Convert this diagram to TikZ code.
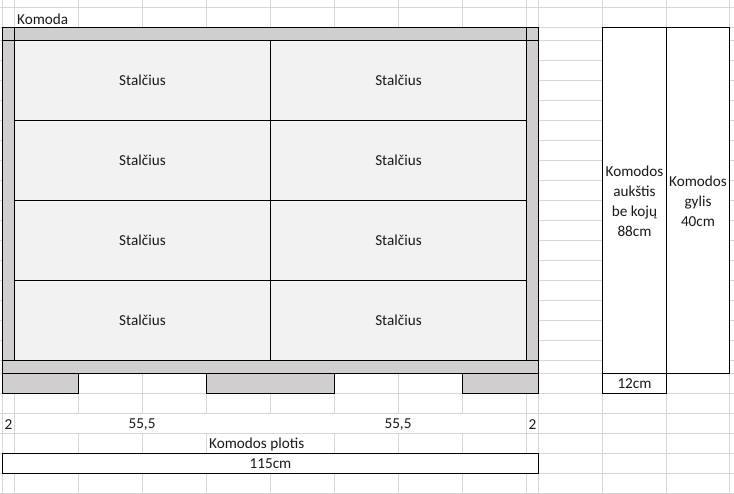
\documentclass[tikz,border=0pt]{standalone}
\usepackage{fontspec}
\setmainfont{Carlito}
\definecolor{gridc}{RGB}{214,214,214}
\definecolor{woodc}{RGB}{208,206,206}
\definecolor{drawerc}{RGB}{242,242,242}
\tikzset{
  x=1pt,y=-1pt,
  gridline/.style={draw=gridc,line width=1pt},
  cell/.style={draw=black,line width=1.1pt},
  label/.style={font=\fontsize{15.2}{20}\selectfont,inner sep=0pt,text=black!90},
  multi/.style={label,align=center},
  boxnode/.style={cell,outer sep=0pt,inner sep=0pt,anchor=north west},
  drawerbox/.style={boxnode,fill=drawerc,minimum width=256pt,minimum height=80pt,label}
}
\newcommand{\drop}[1]{\raisebox{-0.8pt}{#1}}
\begin{document}
\begin{tikzpicture}
\useasboundingbox (0,0) rectangle (734,494);
\fill[white] (0,0) rectangle (734,494);
% grid
\foreach \y in {7,27,40,60,80,100,120,140,160,180,200,220,240,260,280,300,320,340,360,373,393,413,433,453,473,493}
  \draw[gridline] (0,\y+0.5) -- (734,\y+0.5);
\foreach \x in {2,14,78,142,206,270,334,398,462,526,538,602,666,729}
  \draw[gridline] (\x+0.5,0) -- (\x+0.5,494);
% merged row
\fill[white] (15.2,414) rectangle (525.8,433);
% cabinet
\path[cell,fill=woodc] (2.5,27.5) rectangle (538.5,373.5);
\draw[cell] (2.5,40.5) -- (538.5,40.5);
\draw[cell] (2.5,360.5) -- (538.5,360.5);
\draw[cell] (14.5,27.5) -- (14.5,360.5);
\draw[cell] (526.5,27.5) -- (526.5,360.5);
% drawers
\node[drawerbox] (d11) at (14.5,40.5) {\drop{Stalčius}};
\node[drawerbox] (d12) at (270.5,40.5) {\drop{Stalčius}};
\node[drawerbox] (d21) at (14.5,120.5) {\drop{Stalčius}};
\node[drawerbox] (d22) at (270.5,120.5) {\drop{Stalčius}};
\node[drawerbox] (d31) at (14.5,200.5) {\drop{Stalčius}};
\node[drawerbox] (d32) at (270.5,200.5) {\drop{Stalčius}};
\node[drawerbox] (d41) at (14.5,280.5) {\drop{Stalčius}};
\node[drawerbox] (d42) at (270.5,280.5) {\drop{Stalčius}};
% legs
\path[cell,fill=woodc] (2.5,373.5) rectangle (78.5,393.5);
\path[cell,fill=woodc] (206.5,373.5) rectangle (334.5,393.5);
\path[cell,fill=woodc] (462.5,373.5) rectangle (538.5,393.5);
% side view
\node[boxnode,fill=white,minimum width=64pt,minimum height=346pt,label] (h) at (602.5,27.5) {};
\node[boxnode,fill=white,minimum width=63pt,minimum height=346pt,label] (g) at (666.5,27.5) {};
\node[multi] (ht) at (634.5,201.5) {Komodos\\aukštis\\be kojų\\88cm};
\node[multi] (gt) at (698,201) {Komodos\\gylis\\40cm};
\node[boxnode,fill=white,minimum width=64pt,minimum height=20pt,label] (w) at (602.5,373.5) {\drop{12cm}};
% width bar
\node[boxnode,fill=white,minimum width=536pt,minimum height=20pt,label] (tot) at (2.5,453.5) {\drop{115cm}};
% labels
\node[label,anchor=west] (kom) at (17,18.8) {Komoda};
\node[label] (a) at (8.5,424.8) {2};
\node[label] (b) at (142,424.8) {55,5};
\node[label] (c) at (398,424.8) {55,5};
\node[label] (e) at (532.5,424.8) {2};
\fill[white] (207.2,434) rectangle (306,453);
\node[label,anchor=west] (f) at (209,444.8) {Komodos plotis};
\end{tikzpicture}
\end{document}
